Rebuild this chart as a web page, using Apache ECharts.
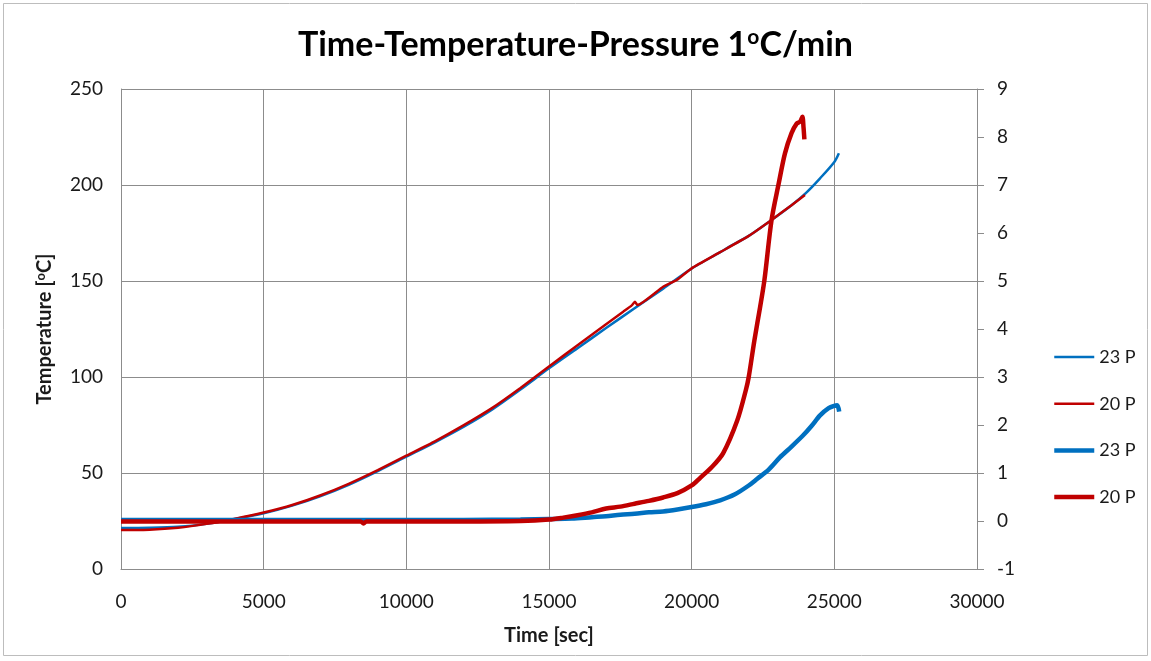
<!DOCTYPE html>
<html>
<head>
<meta charset="utf-8">
<title>Time-Temperature-Pressure 1°C/min</title>
<script src="https://cdn.jsdelivr.net/npm/echarts@6/dist/echarts.min.js"></script>
<style>
  html, body { margin: 0; padding: 0; background: #fff; }
  #chart { width: 1151px; height: 661px; }
</style>
</head>
<body>
<div id="chart"></div>
<script>
// Temperature [°C] against time [sec] (left axis)
const tempTime23 = [0, 1000, 2000, 3000, 4000, 5000, 6000, 7000, 8000, 9000, 10000, 11000, 12000, 13000, 14000, 15000, 16000, 17000, 18000, 19000, 20000, 21000, 21340, 22000, 22800, 23500, 24000, 24500, 25000, 25160];
const temp23 = [21.4, 21.5, 22, 23.5, 26, 29, 33, 38, 44, 51, 58.5, 66, 74, 83, 93.5, 104.5, 115, 125.5, 135.8, 146, 156.5, 165, 168, 173.5, 181.8, 189.5, 195.8, 203.5, 212, 216.5];

const tempTime20 = [0, 1000, 2000, 3000, 4000, 5000, 6000, 7000, 8000, 9000, 10000, 11000, 12000, 13000, 14000, 15000, 16000, 17000, 17600, 17900, 18010, 18100, 19000, 19475, 20000, 21000, 22000, 22800, 23500, 23970];
const temp20 = [20.3, 20.5, 21.5, 23.5, 26.2, 29.4, 33.3, 38.4, 44.5, 51.5, 59, 66.5, 74.8, 83.8, 94.3, 105.5, 116.5, 127.5, 134, 137.3, 139.2, 137.5, 147, 150.5, 156.6, 165, 173.5, 181.8, 189.5, 194.8];

// Pressure against time [sec] (right axis)
const presTime23 = [0, 2000, 4000, 6000, 8000, 10000, 12000, 14000, 15000, 15800, 16500, 17000, 17500, 18000, 18500, 19000, 19500, 20000, 20500, 21000, 21500, 22000, 22300, 22700, 23100, 23500, 23900, 24200, 24500, 24800, 25000, 25100, 25170];
const pres23 = [0.02, 0.02, 0.02, 0.02, 0.02, 0.02, 0.02, 0.03, 0.04, 0.05, 0.08, 0.1, 0.13, 0.15, 0.18, 0.2, 0.24, 0.29, 0.35, 0.43, 0.55, 0.74, 0.88, 1.07, 1.33, 1.55, 1.78, 1.98, 2.2, 2.35, 2.4, 2.41, 2.28];

const presTime20 = [0, 1000, 3000, 6000, 8400, 8500, 8600, 12000, 14000, 15000, 15500, 16000, 16500, 17000, 17500, 18000, 18500, 19000, 19500, 20000, 20300, 20700, 21100, 21600, 21900, 22000, 22200, 22400, 22550, 22800, 23050, 23270, 23500, 23680, 23800, 23880, 23920, 23950];
const pres20 = [-0.01, -0.01, -0.01, -0.01, -0.01, -0.05, -0.01, -0.01, 0.0, 0.03, 0.07, 0.12, 0.18, 0.26, 0.3, 0.36, 0.42, 0.49, 0.58, 0.74, 0.9, 1.12, 1.41, 2.1, 2.73, 3.0, 3.77, 4.46, 5.02, 6.27, 7.03, 7.66, 8.08, 8.28, 8.32, 8.42, 8.2, 7.95];

// Axis scales and series names (two runs each of temperature and pressure)
const xTicks = { min: 0, max: 30000, step: 5000 };
const leftTicks = { min: 0, max: 250, step: 50 };
const rightTicks = { min: -1, max: 9, step: 1 };
// trailing spaces keep the repeated names as separate legend entries
const seriesNames = ['23 P', '20 P', '23 P ', '20 P '];

const BLUE = '#0070C0';
const RED = '#C00000';
const FONT = 'Lato, "Liberation Sans", sans-serif';
const GRID_GREY = '#8c8c8c';
const TEXT = '#1a1a1a';

const pairs = (ts, vs) => ts.map((t, i) => [t, vs[i]]);

const chart = echarts.init(document.getElementById('chart'), null, { renderer: 'canvas' });

chart.setOption({
  backgroundColor: '#ffffff',
  animation: false,
  title: {
    text: 'Time-Temperature-Pressure 1{sup|o}C/min',
    left: 'center',
    top: 22,
    textStyle: {
      fontFamily: FONT,
      fontSize: 34,
      fontWeight: 'bold',
      color: '#000',
      rich: {
        sup: { fontFamily: FONT, fontSize: 21, fontWeight: 'bold', color: '#000', verticalAlign: 'top', padding: [0, 0, 15, 0] }
      }
    }
  },
  graphic: [{
    type: 'rect',
    shape: { x: 3.5, y: 3.5, width: 1144, height: 652 },
    style: { fill: 'none', stroke: '#bdbdbd', lineWidth: 1 },
    silent: true
  }],
  grid: { left: 121, right: 174, top: 89, bottom: 92, containLabel: false },
  legend: {
    orient: 'vertical',
    left: 1047,
    top: 343,
    itemWidth: 40,
    itemHeight: 14,
    itemGap: 28.7,
    itemStyle: { opacity: 0 },
    lineStyle: { width: 'inherit' },
    formatter: (name) => name.trim(),
    textStyle: { fontFamily: FONT, fontSize: 18, color: TEXT }
  },
  xAxis: {
    type: 'value',
    min: xTicks.min,
    max: xTicks.max,
    interval: xTicks.step,
    name: 'Time [sec]',
    nameLocation: 'middle',
    nameGap: 57,
    nameTextStyle: { fontFamily: FONT, fontSize: 20, fontWeight: 'bold', color: TEXT },
    axisLine: { show: true, onZero: false, lineStyle: { color: GRID_GREY, width: 1 } },
    axisTick: { show: false },
    axisLabel: { margin: 23, fontFamily: FONT, fontSize: 19, color: TEXT, formatter: (v) => String(v) },
    splitLine: { show: true, lineStyle: { color: GRID_GREY, width: 1 } }
  },
  yAxis: [{
    type: 'value',
    position: 'left',
    min: leftTicks.min,
    max: leftTicks.max,
    interval: leftTicks.step,
    name: 'Temperature [{sup|o}C]',
    nameLocation: 'middle',
    nameRotate: 90,
    nameGap: 66,
    nameTextStyle: {
      fontFamily: FONT, fontSize: 20, fontWeight: 'bold', color: TEXT,
      rich: { sup: { fontFamily: FONT, fontSize: 13, fontWeight: 'bold', color: TEXT, verticalAlign: 'top', padding: [0, 0, 8, 0] } }
    },
    axisLine: { show: true, onZero: false, lineStyle: { color: GRID_GREY, width: 1 } },
    axisTick: { show: false },
    axisLabel: { margin: 18, fontFamily: FONT, fontSize: 19, color: TEXT },
    splitLine: { show: true, lineStyle: { color: GRID_GREY, width: 1 } }
  }, {
    type: 'value',
    position: 'right',
    min: rightTicks.min,
    max: rightTicks.max,
    interval: rightTicks.step,
    axisLine: { show: true, onZero: false, lineStyle: { color: GRID_GREY, width: 1 } },
    axisTick: { show: true, inside: false, length: 7, lineStyle: { color: GRID_GREY, width: 1 } },
    axisLabel: { margin: 20, fontFamily: FONT, fontSize: 19, color: TEXT },
    splitLine: { show: false }
  }],
  series: [{
    name: seriesNames[0],
    type: 'line',
    yAxisIndex: 0,
    data: pairs(tempTime23, temp23),
    symbol: 'none',
    smooth: 0.3,
    lineStyle: { color: BLUE, width: 2.5 },
    itemStyle: { color: BLUE },
    z: 2
  }, {
    name: seriesNames[1],
    type: 'line',
    yAxisIndex: 0,
    data: pairs(tempTime20, temp20),
    symbol: 'none',
    smooth: 0.15,
    lineStyle: { color: RED, width: 2.5 },
    itemStyle: { color: RED },
    z: 3
  }, {
    name: seriesNames[2],
    type: 'line',
    yAxisIndex: 1,
    data: pairs(presTime23, pres23),
    symbol: 'none',
    smooth: 0.3,
    lineStyle: { color: BLUE, width: 4.5 },
    itemStyle: { color: BLUE },
    z: 4
  }, {
    name: seriesNames[3],
    type: 'line',
    yAxisIndex: 1,
    data: pairs(presTime20, pres20),
    symbol: 'none',
    smooth: 0.3,
    lineStyle: { color: RED, width: 4.5 },
    itemStyle: { color: RED },
    z: 5
  }]
});
</script>
</body>
</html>
